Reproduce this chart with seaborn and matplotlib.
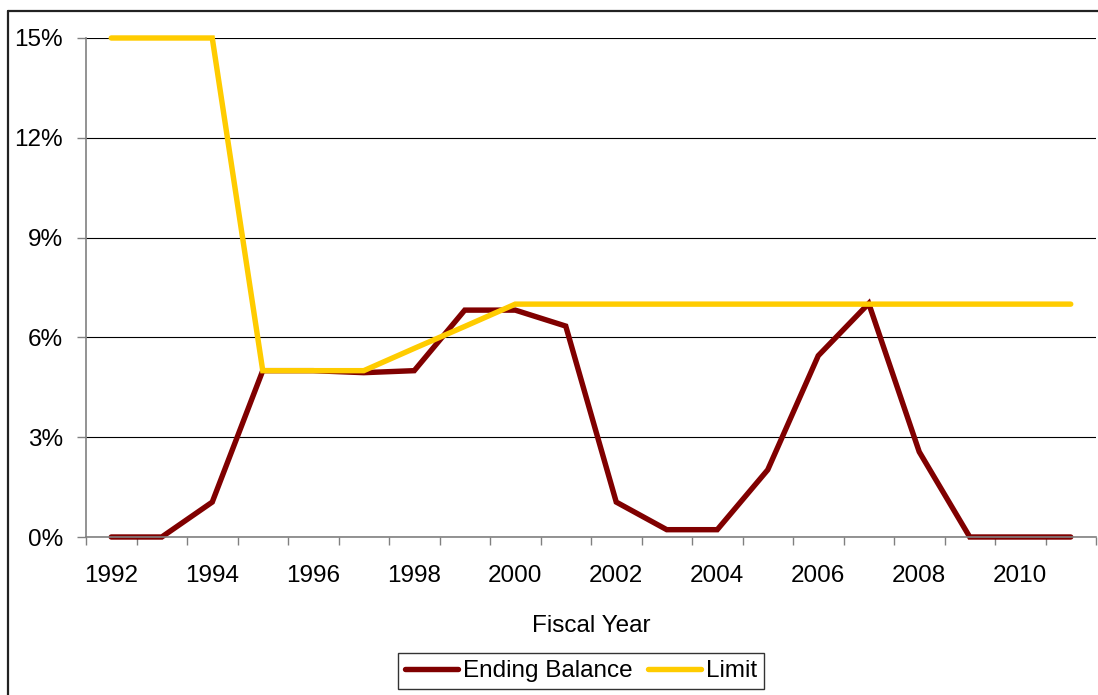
import pandas as pd
import seaborn as sns
import matplotlib.pyplot as plt
from matplotlib.lines import Line2D
from matplotlib.ticker import FuncFormatter, MultipleLocator

years = list(range(1992, 2012))
ending_balance = [0.0, 0.0, 1.05, 5.0, 5.0, 4.94, 5.0, 6.82, 6.82, 6.34,
                  1.05, 0.22, 0.22, 2.02, 5.45, 7.02, 2.56, 0.0, 0.0, 0.0]
limit = [15.0, 15.0, 15.0, 5.0, 5.0, 5.0, 5.67, 6.33, 7.0, 7.0,
         7.0, 7.0, 7.0, 7.0, 7.0, 7.0, 7.0, 7.0, 7.0, 7.0]
series_names = ['Ending Balance', 'Limit']
series_colors = ['#800000', '#FFCC00']

df = pd.DataFrame({
    'Year': years * 2,
    'Value': ending_balance + limit,
    'Series': [series_names[0]] * len(years) + [series_names[1]] * len(years),
})

sns.set_style('white', {'text.color': 'black', 'axes.labelcolor': 'black',
                        'xtick.color': 'black', 'ytick.color': 'black'})
plt.rcParams['font.family'] = ['Liberation Sans', 'DejaVu Sans']
FS = 17.5

fig = plt.figure(figsize=(10.98, 6.95), dpi=100)
ax = fig.add_axes([86 / 1098, 1 - 537 / 695, (1096 - 86) / 1098, (537 - 38) / 695])

sns.lineplot(data=df, x='Year', y='Value', hue='Series', hue_order=series_names,
             palette=series_colors, linewidth=3.9, ax=ax, legend=False)

ax.set_xlim(1991.5, 2011.5)
ax.set_ylim(0, 15)
for ln in ax.lines:
    ln.set_clip_on(False)
    ln.set_solid_joinstyle('miter')

# y axis
ax.yaxis.set_major_locator(MultipleLocator(3))
ax.yaxis.set_major_formatter(FuncFormatter(lambda v, p: f'{v:.0f}%'))
ax.grid(axis='y', color='black', linewidth=0.8)
ax.tick_params(axis='y', which='major', direction='out', length=6.5, width=1,
               color='#808080', labelcolor='black', pad=10, labelsize=FS, left=True)

# x axis: labels on every other year, ticks on category boundaries
ax.set_xticks(years[::2])
ax.set_xticks([y - 0.5 for y in years] + [years[-1] + 0.5], minor=True)
ax.tick_params(axis='x', which='major', length=0, pad=20, labelsize=FS,
               labelcolor='black')
ax.tick_params(axis='x', which='minor', direction='out', length=6, width=1,
               color='#808080', bottom=True)

for side in ['top', 'right']:
    ax.spines[side].set_visible(False)
for side in ['left', 'bottom']:
    ax.spines[side].set_color('#808080')
    ax.spines[side].set_linewidth(1.2)
ax.set_axisbelow(True)

ax.set_xlabel('Fiscal Year', fontsize=FS, labelpad=20, color='black')
ax.set_ylabel('')

handles = [Line2D([0], [0], color=c, linewidth=3.9) for c in series_colors]
leg = fig.legend(handles, series_names, loc='center', ncol=2,
                 bbox_to_anchor=(581 / 1098, 1 - 671 / 695), fontsize=FS,
                 frameon=True, fancybox=False, edgecolor='black',
                 handlelength=2.2, handletextpad=0.2, columnspacing=0.6,
                 borderpad=0.3, labelcolor='black')
leg.get_frame().set_linewidth(1.0)

# outer chart border (top and left edges visible)
fig.add_artist(Line2D([8 / 1098, 8 / 1098], [0, 1 - 11 / 695], color='#222222', linewidth=1.6))
fig.add_artist(Line2D([8 / 1098, 1], [1 - 11 / 695, 1 - 11 / 695], color='#222222', linewidth=1.6))

fig.savefig('out.png', dpi=100)
